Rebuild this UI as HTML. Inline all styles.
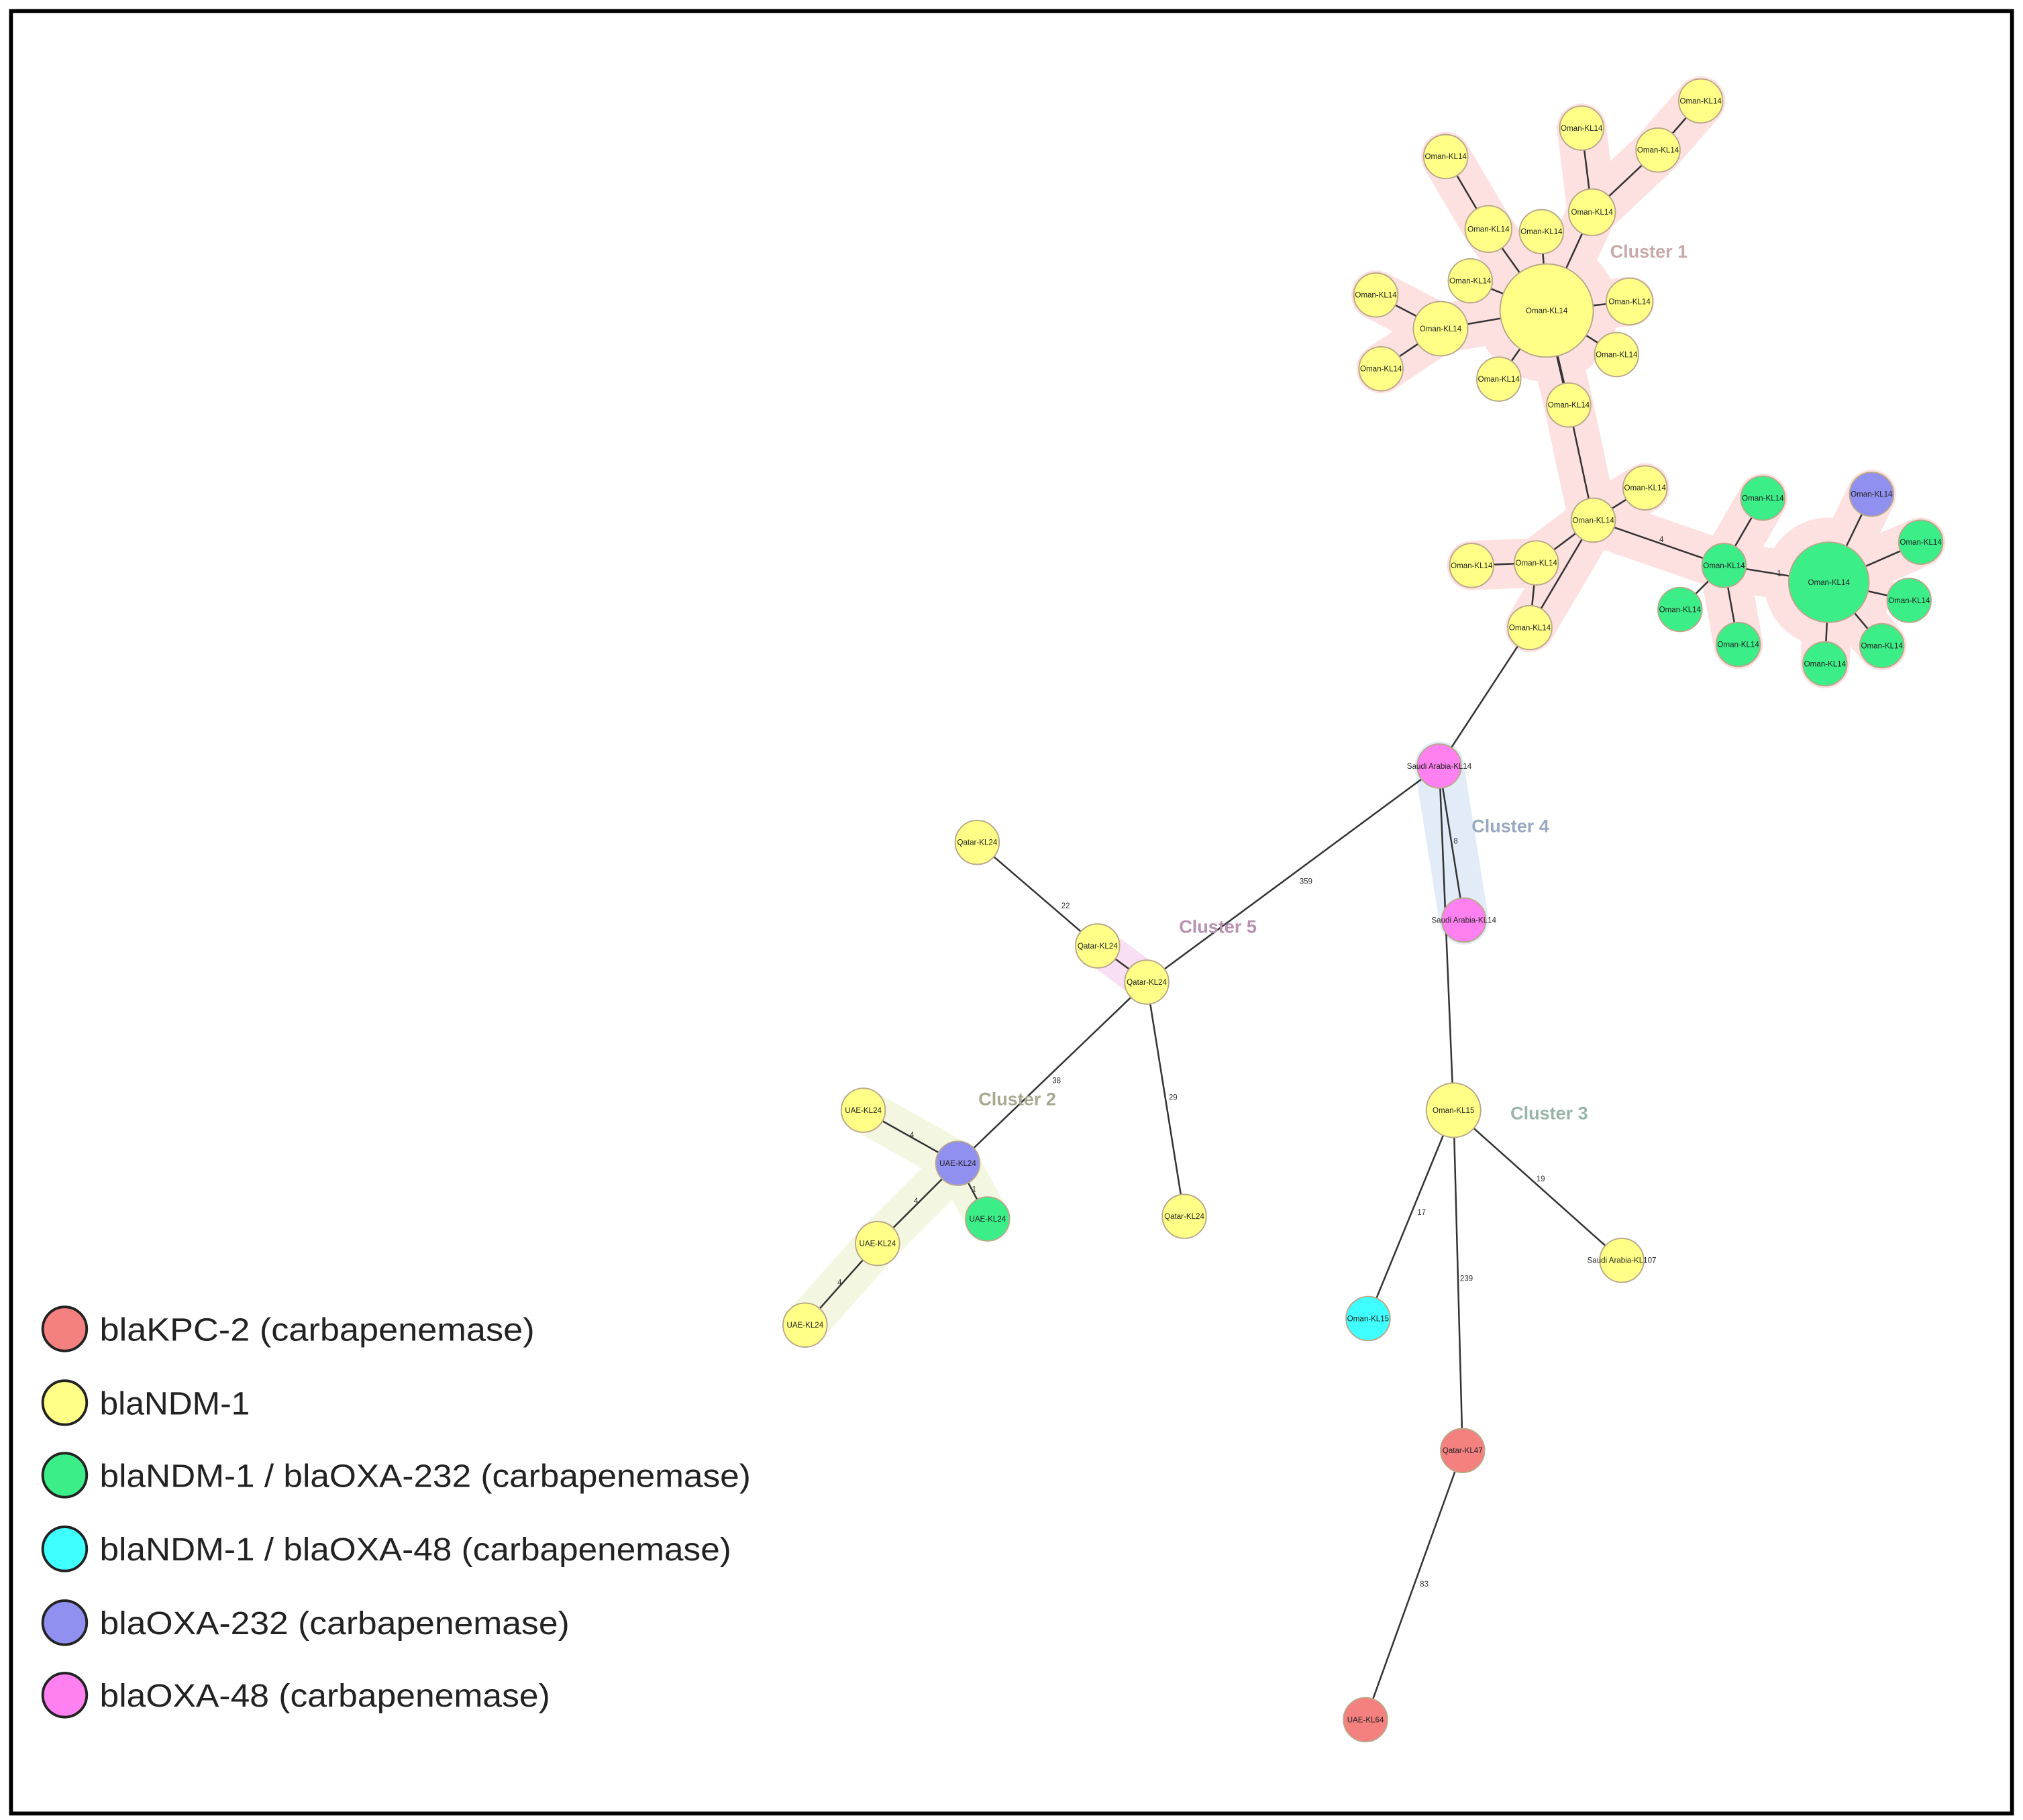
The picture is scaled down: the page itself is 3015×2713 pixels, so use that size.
<!DOCTYPE html>
<html><head><meta charset="utf-8"><style>
html,body{margin:0;padding:0;background:#fff}
svg{display:block}
text{font-family:"Liberation Sans",sans-serif}
</style></head><body>
<svg width="3015" height="2713" viewBox="0 0 1563 1406.5" preserveAspectRatio="none" xmlns="http://www.w3.org/2000/svg">
<rect x="0" y="0" width="1563" height="1406.5" fill="#fff"/>
<rect x="8.5" y="8.5" width="1546" height="1393" fill="none" stroke="#000" stroke-width="3"/>
<g fill="none" stroke-linecap="round" stroke-linejoin="round" stroke-width="38">
<g stroke="#fde0e0">
<polyline points="1117,121 1150,177 1195,240 1230,164 1281,116 1314,78"/>
<polyline points="1222,99 1230,164"/>
<polyline points="1063,228 1113,254 1067,285"/>
<polyline points="1113,254 1195,240 1259,233"/>
<polyline points="1195,240 1212,313 1231,402 1332,437 1413,450 1446,382"/>
<polyline points="1137,437 1187,435 1231,402 1271,377"/>
<polyline points="1231,402 1182,485"/>
<polyline points="1332,437 1362,385"/>
<polyline points="1332,437 1343,498"/>
<polyline points="1413,450 1484,419"/>
<polyline points="1413,450 1454,499"/>
<polyline points="1413,450 1410,513"/>
</g>
<polyline stroke="#e2ecf8" points="1112,592 1131,711"/>
<polyline stroke="#f8dff4" stroke-width="30" points="848,731 886,759"/>
<g stroke="#f3f7e1" stroke-width="34"><polyline points="667,858 740,899 763,942"/><polyline points="740,899 678,961 622,1024"/></g>
</g>
<circle cx="1195" cy="240" r="55" fill="#fde0e0"/>
<circle cx="1413" cy="450" r="50" fill="#fde0e0"/>
<g stroke="#333" stroke-width="1.3">
<line x1="1195" y1="240" x2="1150" y2="177"/><line x1="1150" y1="177" x2="1117" y2="121"/>
<line x1="1195" y1="240" x2="1191" y2="179"/>
<line x1="1195" y1="240" x2="1230" y2="164"/><line x1="1230" y1="164" x2="1222" y2="99"/><line x1="1230" y1="164" x2="1281" y2="116"/><line x1="1281" y1="116" x2="1314" y2="78"/>
<line x1="1195" y1="240" x2="1136" y2="217"/><line x1="1195" y1="240" x2="1113" y2="254"/><line x1="1113" y1="254" x2="1063" y2="228"/><line x1="1113" y1="254" x2="1067" y2="285"/>
<line x1="1195" y1="240" x2="1259" y2="233"/><line x1="1195" y1="240" x2="1249" y2="274"/><line x1="1195" y1="240" x2="1158" y2="293"/>
<line x1="1195" y1="240" x2="1212" y2="313" stroke-width="2"/><line x1="1212" y1="313" x2="1231" y2="402"/>
<line x1="1231" y1="402" x2="1271" y2="377"/><line x1="1231" y1="402" x2="1187" y2="435"/><line x1="1187" y1="435" x2="1137" y2="437"/><line x1="1187" y1="435" x2="1182" y2="485"/><line x1="1231" y1="402" x2="1182" y2="485"/>
<line x1="1231" y1="402" x2="1332" y2="437"/><line x1="1332" y1="437" x2="1362" y2="385"/><line x1="1332" y1="437" x2="1298" y2="471"/><line x1="1332" y1="437" x2="1343" y2="498"/><line x1="1332" y1="437" x2="1413" y2="450"/>
<line x1="1413" y1="450" x2="1446" y2="382"/><line x1="1413" y1="450" x2="1484" y2="419"/><line x1="1413" y1="450" x2="1475" y2="464"/><line x1="1413" y1="450" x2="1454" y2="499"/><line x1="1413" y1="450" x2="1410" y2="513"/>
<line x1="1182" y1="485" x2="1112" y2="592"/>
<line x1="1112" y1="592" x2="1131" y2="711"/><line x1="1112" y1="592" x2="1123" y2="858"/>
<line x1="1112" y1="592" x2="886" y2="759"/>
<line x1="755" y1="651" x2="848" y2="731"/><line x1="848" y1="731" x2="886" y2="759"/><line x1="886" y1="759" x2="915" y2="940"/><line x1="886" y1="759" x2="740" y2="899"/>
<line x1="740" y1="899" x2="667" y2="858"/><line x1="740" y1="899" x2="763" y2="942"/><line x1="740" y1="899" x2="678" y2="961"/><line x1="678" y1="961" x2="622" y2="1024"/>
<line x1="1123" y1="858" x2="1057" y2="1019"/><line x1="1123" y1="858" x2="1253" y2="974"/><line x1="1123" y1="858" x2="1130" y2="1121"/><line x1="1130" y1="1121" x2="1055" y2="1329"/>
</g>
<g font-size="6" fill="#333">
<text x="1004" y="683">359</text><text x="1123" y="652">8</text><text x="820" y="702">22</text><text x="813" y="837">38</text><text x="903" y="850">29</text>
<text x="1095" y="939">17</text><text x="1187" y="913">19</text><text x="1128" y="990">239</text><text x="1097" y="1226">83</text>
<text x="703" y="879">4</text><text x="751" y="921">1</text><text x="706" y="930">4</text><text x="647" y="993">4</text><text x="1282" y="419">4</text><text x="1373" y="445">1</text>
</g>
<g stroke="#b9a88a" stroke-width="1">
<g fill="#ffff88">
<circle cx="1195" cy="240" r="36"/>
<circle cx="1314" cy="78" r="17"/><circle cx="1222" cy="99" r="17"/><circle cx="1117" cy="121" r="17"/><circle cx="1281" cy="116" r="17"/><circle cx="1230" cy="164" r="18"/><circle cx="1150" cy="177" r="18"/><circle cx="1191" cy="179" r="17"/><circle cx="1136" cy="217" r="17"/><circle cx="1259" cy="233" r="18"/><circle cx="1063" cy="228" r="17"/><circle cx="1113" cy="254" r="21"/><circle cx="1249" cy="274" r="17"/><circle cx="1067" cy="285" r="17"/><circle cx="1158" cy="293" r="17"/><circle cx="1212" cy="313" r="17"/>
<circle cx="1231" cy="402" r="17"/><circle cx="1271" cy="377" r="17"/><circle cx="1187" cy="435" r="17"/><circle cx="1137" cy="437" r="17"/><circle cx="1182" cy="485" r="17"/>
<circle cx="755" cy="651" r="17"/><circle cx="848" cy="731" r="17"/><circle cx="886" cy="759" r="17"/><circle cx="915" cy="940" r="17"/>
<circle cx="667" cy="858" r="17"/><circle cx="678" cy="961" r="17"/><circle cx="622" cy="1024" r="17"/>
<circle cx="1123" cy="858" r="21"/><circle cx="1253" cy="974" r="17"/>
</g>
<g fill="#3cee88">
<circle cx="1413" cy="450" r="31"/><circle cx="1332" cy="437" r="17"/><circle cx="1362" cy="385" r="17"/><circle cx="1484" cy="419" r="17"/><circle cx="1475" cy="464" r="17"/><circle cx="1454" cy="499" r="17"/><circle cx="1410" cy="513" r="17"/><circle cx="1343" cy="498" r="17"/><circle cx="1298" cy="471" r="17"/><circle cx="763" cy="942" r="17"/>
</g>
<g fill="#9090f0"><circle cx="1446" cy="382" r="17"/><circle cx="740" cy="899" r="17"/></g>
<g fill="#ff80f0"><circle cx="1112" cy="592" r="17"/><circle cx="1131" cy="711" r="17"/></g>
<circle cx="1057" cy="1019" r="17" fill="#40ffff"/>
<g fill="#f48080"><circle cx="1130" cy="1121" r="17"/><circle cx="1055" cy="1329" r="17"/></g>
</g>
<g font-size="6" fill="#222" text-anchor="middle">
<text x="1195" y="242">Oman-KL14</text>
<text x="1314" y="80">Oman-KL14</text><text x="1222" y="101">Oman-KL14</text><text x="1117" y="123">Oman-KL14</text><text x="1281" y="118">Oman-KL14</text><text x="1230" y="166">Oman-KL14</text><text x="1150" y="179">Oman-KL14</text><text x="1191" y="181">Oman-KL14</text><text x="1136" y="219">Oman-KL14</text><text x="1259" y="235">Oman-KL14</text><text x="1063" y="230">Oman-KL14</text><text x="1113" y="256">Oman-KL14</text><text x="1249" y="276">Oman-KL14</text><text x="1067" y="287">Oman-KL14</text><text x="1158" y="295">Oman-KL14</text><text x="1212" y="315">Oman-KL14</text>
<text x="1231" y="404">Oman-KL14</text><text x="1271" y="379">Oman-KL14</text><text x="1187" y="437">Oman-KL14</text><text x="1137" y="439">Oman-KL14</text><text x="1182" y="487">Oman-KL14</text>
<text x="1413" y="452">Oman-KL14</text><text x="1332" y="439">Oman-KL14</text><text x="1362" y="387">Oman-KL14</text><text x="1446" y="384">Oman-KL14</text><text x="1484" y="421">Oman-KL14</text><text x="1475" y="466">Oman-KL14</text><text x="1454" y="501">Oman-KL14</text><text x="1410" y="515">Oman-KL14</text><text x="1343" y="500">Oman-KL14</text><text x="1298" y="473">Oman-KL14</text>
<text x="1112" y="594">Saudi Arabia-KL14</text><text x="1131" y="713">Saudi Arabia-KL14</text>
<text x="755" y="653">Qatar-KL24</text><text x="848" y="733">Qatar-KL24</text><text x="886" y="761">Qatar-KL24</text><text x="915" y="942">Qatar-KL24</text>
<text x="667" y="860">UAE-KL24</text><text x="740" y="901">UAE-KL24</text><text x="763" y="944">UAE-KL24</text><text x="678" y="963">UAE-KL24</text><text x="622" y="1026">UAE-KL24</text>
<text x="1123" y="860">Oman-KL15</text><text x="1057" y="1021">Oman-KL15</text><text x="1253" y="976">Saudi Arabia-KL107</text><text x="1130" y="1123">Qatar-KL47</text><text x="1055" y="1331">UAE-KL64</text>
</g>
<g font-size="14" font-weight="bold">
<text x="1244" y="199" fill="#c9a8a8">Cluster 1</text>
<text x="756" y="854" fill="#a8a890">Cluster 2</text>
<text x="1167" y="865" fill="#98b4a8">Cluster 3</text>
<text x="1137" y="643" fill="#98a8c0">Cluster 4</text>
<text x="911" y="721" fill="#b890b0">Cluster 5</text>
</g>
<g stroke="#222" stroke-width="2">
<circle cx="50" cy="1027" r="17" fill="#f48080"/><circle cx="50" cy="1084" r="17" fill="#ffff88"/><circle cx="50" cy="1140" r="17" fill="#3cee88"/><circle cx="50" cy="1197" r="17" fill="#40ffff"/><circle cx="50" cy="1254" r="17" fill="#9090f0"/><circle cx="50" cy="1310" r="17" fill="#ff80f0"/>
</g>
<g font-size="25" fill="#222" lengthAdjust="spacingAndGlyphs">
<text x="77" y="1036" textLength="336" lengthAdjust="spacingAndGlyphs">blaKPC-2 (carbapenemase)</text>
<text x="77" y="1093" textLength="116" lengthAdjust="spacingAndGlyphs">blaNDM-1</text>
<text x="77" y="1149" textLength="503" lengthAdjust="spacingAndGlyphs">blaNDM-1 / blaOXA-232 (carbapenemase)</text>
<text x="77" y="1206" textLength="488" lengthAdjust="spacingAndGlyphs">blaNDM-1 / blaOXA-48 (carbapenemase)</text>
<text x="77" y="1263" textLength="363" lengthAdjust="spacingAndGlyphs">blaOXA-232 (carbapenemase)</text>
<text x="77" y="1319" textLength="348" lengthAdjust="spacingAndGlyphs">blaOXA-48 (carbapenemase)</text>
</g>
</svg>
</body></html>
